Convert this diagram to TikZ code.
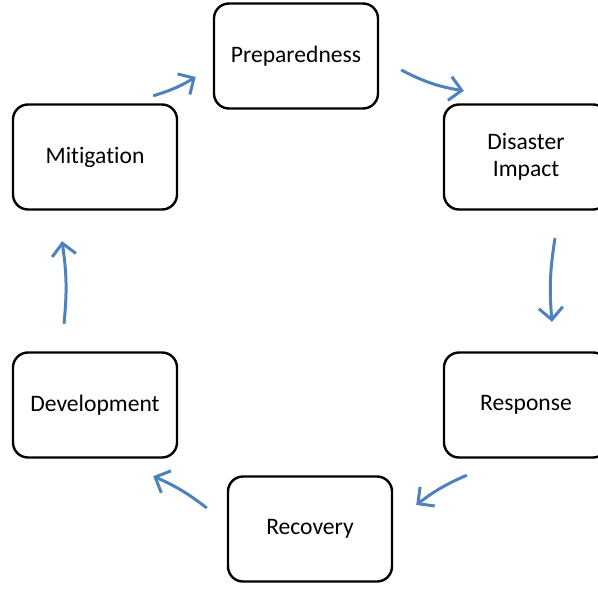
\documentclass[tikz,border=0pt]{standalone}
\usepackage{fontspec}
\setmainfont[Ligatures={NoCommon}]{Carlito}
\usetikzlibrary{arrows.meta}
\definecolor{cycleblue}{HTML}{4F81BD}
\tikzset{
  phase/.style={draw, line width=1.2pt, rounded corners=7.5pt,
    minimum width=82pt, minimum height=52.5pt, align=center,
    font=\fontsize{11.8}{13.5}\selectfont},
  flow/.style={cycleblue, line width=1.5pt,
    -{Straight Barb[length=6pt, width=12pt, line width=1.5pt]}}
}
\begin{document}
\begin{tikzpicture}[x=0.5pt, y=-0.5pt]
      \useasboundingbox (0,0) rectangle (598,588);
      %
      \node[phase] (prep) at (296,56) {Preparedness};
      \node[phase] (dis) at (526,157) {Disaster\\Impact};
      \node[phase] (resp) at (526,405) {Response};
      \node[phase] (rec) at (310,529) {Recovery};
      \node[phase] (dev) at (95,405) {Development};
      \node[phase] (mit) at (95,157) {Mitigation};
      %
      \draw[flow] ([shift={(22,14)}]prep.east) to[bend right=9] ([shift={(21,-12.5)}]dis.north west);
      \draw[flow] ([shift={(29,27.5)}]dis.south) to[bend right=7] ([shift={(26,-29.5)}]resp.north);
      \draw[flow] ([shift={(24,16.5)}]resp.south west) to[bend right=7] ([shift={(23,-24)}]rec.east);
      \draw[flow] ([shift={(-20,-21)}]rec.west) to[bend right=7] ([shift={(-25,17.5)}]dev.south east);
      \draw[flow] ([shift={(-31,-27.5)}]dev.north) to[bend right=7] ([shift={(-33,30.5)}]mit.south);
      \draw[flow] ([shift={(-25,-7.5)}]mit.north east) to[bend right=7] ([shift={(-17,21)}]prep.west);
      %
    \end{tikzpicture}
\end{document}
